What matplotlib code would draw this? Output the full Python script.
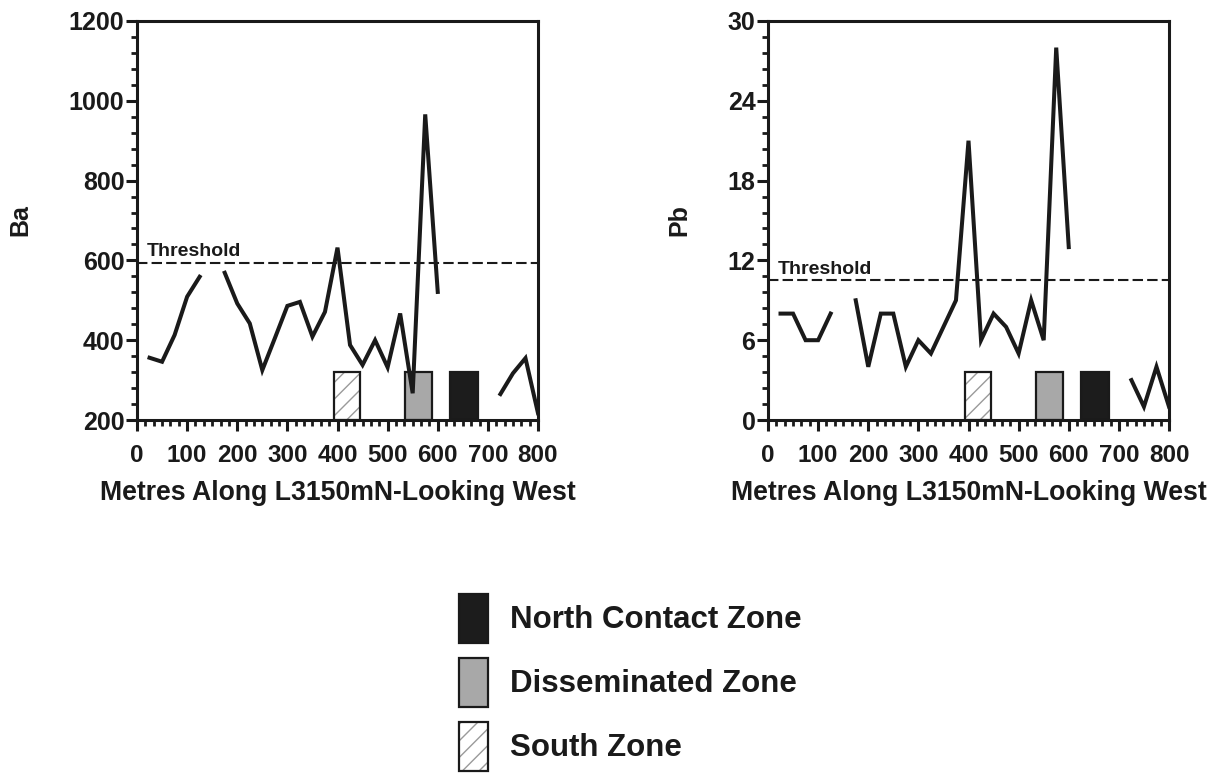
import numpy as np
import matplotlib
matplotlib.use('Agg')
import matplotlib.pyplot as plt
from matplotlib.patches import Patch
from matplotlib.ticker import MultipleLocator

plt.rcParams['font.family'] = ['Liberation Sans', 'DejaVu Sans']
plt.rcParams['font.weight'] = 'bold'

# distance along line (m), samples every 25 m; nan = no sample
metres = [25, 50, 75, 100, 125, 150, 175, 200, 225, 250, 275, 300, 325, 350, 375, 400,
          425, 450, 475, 500, 525, 550, 575, 600, 625, 650, 675, 700, 725, 750, 775, 800]
ba = [356, 346, 413, 509, 559, np.nan, 569, 492, 442, 325, 405, 486, 496, 409, 471, 632,
      388, 338, 400, 332, 467, 267, 966, 521, np.nan, np.nan, np.nan, np.nan, 265, 317, 355, 217]
pb = [8, 8, 6, 6, 8, np.nan, 9, 4, 8, 8, 4, 6, 5, 7, 9, 21,
      6, 8, 7, 5, 9, 6, 28, 13, np.nan, np.nan, np.nan, np.nan, 3, 1, 4, 1]

ba_threshold = 593
pb_threshold = 10.5

# zone bars: left edge and width in metres
zone_names = ['North Contact Zone', 'Disseminated Zone', 'South Zone']
zone_start = [625, 535, 393]
zone_width = [55, 54, 52]
zone_colors = ['#1c1c1c', '#a8a8a8', 'white']
ba_bar_top = 320
pb_bar_top = 3.6

ink = '#1a1a1a'

fig = plt.figure(figsize=(12.18, 7.73), dpi=100)
ax1 = fig.add_axes([137/1218, 1-420/773, 401/1218, 399/773])
ax2 = fig.add_axes([768/1218, 1-420/773, 401/1218, 399/773])


def draw_panel(ax, vals, thr, ylo, yhi, ymaj, ymin, bar_top, label, lab_x, thr_text_y):
    # zone bars sit on the bottom axis
    for name, s, w, c in zip(zone_names, zone_start, zone_width, zone_colors):
        if name == 'South Zone':
            ax.bar(s, bar_top - ylo, width=w, bottom=ylo, align='edge', color='white',
                   edgecolor='#9a9a9a', linewidth=0, hatch='//', zorder=2)
            ax.bar(s, bar_top - ylo, width=w, bottom=ylo, align='edge', fill=False,
                   edgecolor=ink, linewidth=1.6, zorder=2)
        else:
            ax.bar(s, bar_top - ylo, width=w, bottom=ylo, align='edge', color=c,
                   edgecolor=ink, linewidth=1.6, zorder=2)
    ax.plot(metres, vals, color=ink, lw=2.9, solid_joinstyle='miter', zorder=3)
    ax.axhline(thr, color=ink, lw=1.5, dashes=(5, 2), zorder=3)
    ax.text(20, thr_text_y, 'Threshold', fontsize=14, fontweight='bold', color=ink)

    ax.set_xlim(0, 800)
    ax.set_ylim(ylo, yhi)
    ax.xaxis.set_major_locator(MultipleLocator(100))
    ax.xaxis.set_minor_locator(MultipleLocator(100/6))
    ax.yaxis.set_major_locator(MultipleLocator(ymaj))
    ax.yaxis.set_minor_locator(MultipleLocator(ymin))
    ax.tick_params(which='major', length=8, width=2.2, color=ink)
    ax.tick_params(which='minor', length=4, width=2.0, color=ink)
    ax.tick_params(axis='y', which='major', labelsize=18, pad=1, labelcolor=ink)
    ax.tick_params(axis='x', which='major', labelsize=17.5, pad=9, labelcolor=ink)
    for sp in ax.spines.values():
        sp.set_linewidth(2.2)
        sp.set_color(ink)
    ax.set_xlabel('Metres Along L3150mN-Looking West', fontsize=19.2, fontweight='bold',
                  color=ink, labelpad=10)
    ax.set_ylabel(label, fontsize=18, fontweight='bold', color=ink)
    ax.yaxis.set_label_coords(lab_x, 0.5)


draw_panel(ax1, ba, ba_threshold, 200, 1200, 200, 40, ba_bar_top, 'Ba', -0.26, 610)
draw_panel(ax2, pb, pb_threshold, 0, 30, 6, 1.2, pb_bar_top, 'Pb', -0.192, 10.95)

# legend below the panels
h_north = Patch(facecolor=zone_colors[0], edgecolor=ink, linewidth=1.6)
h_dis = Patch(facecolor=zone_colors[1], edgecolor=ink, linewidth=1.6)
h_south_fill = Patch(facecolor='white', edgecolor='#9a9a9a', linewidth=0, hatch='//')
h_south_edge = Patch(fill=False, edgecolor=ink, linewidth=1.6)
fig.legend([h_north, h_dis, (h_south_fill, h_south_edge)], zone_names,
           loc='upper left', bbox_to_anchor=(459/1218, 1-594/773), frameon=False,
           borderpad=0, borderaxespad=0, fontsize=22.5, handlelength=0.93, handleheight=2.035,
           handletextpad=0.7, labelspacing=0.48, labelcolor=ink)

fig.savefig('out.png', dpi=100)
